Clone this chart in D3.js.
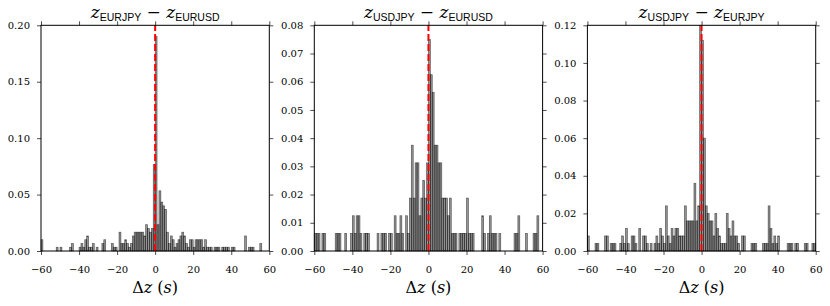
<!DOCTYPE html>
<html lang="en">
<head>
<meta charset="utf-8">
<title>Delta z histograms</title>
<script src="https://d3js.org/d3.v7.min.js"></script>
<style>
  body { margin: 0; background: #fff; }
  .tick text { font-family: 'DejaVu Serif', serif; font-size: 10px; fill: #000; }
  .tick line { stroke: #222; stroke-width: 0.8; }
</style>
</head>
<body>
<script>
// 1 s bins from -60 to 60, counts per bin (heights are count / sample size)
var binStarts = d3.range(-60, 60);

var countsEurjpyEurusd = [
  3,0,0,0,0,0,0,0,1,0, 1,0,0,0,0,1,2,0,0,0,
  1,2,1,3,4,1,1,2,0,1, 0,0,2,3,0,0,0,2,1,1,
  0,5,2,2,3,2,1,2,4,5, 5,5,5,5,4,7,6,5,6,23,
  57,7,16,13,12,11,5,2,4,3, 1,2,3,4,5,4,2,1,3,3,
  1,3,3,3,3,1,3,1,1,1, 0,1,1,1,0,1,1,1,1,0,
  1,1,0,0,0,0,0,4,0,1, 1,1,0,0,0,2,0,0,0,0
];
var countsUsdjpyEurusd = [
  1,1,1,0,1,1,0,0,0,0, 0,1,1,1,0,0,1,0,0,1,
  2,1,2,2,1,0,1,1,1,0, 0,0,0,1,0,1,1,1,0,1,
  1,0,2,1,1,2,1,0,2,1, 3,6,3,5,5,2,3,4,3,5,
  12,10,9,6,6,5,5,3,3,3, 2,3,1,1,1,0,1,1,1,1,
  3,1,1,1,0,0,0,0,2,1, 0,1,2,1,1,1,0,1,0,0,
  0,0,0,0,0,1,1,2,0,0, 0,1,0,0,0,1,1,2,0,0
];
var countsUsdjpyEurjpy = [
  2,0,0,0,1,1,0,0,0,2, 2,0,1,1,1,0,0,1,2,1,
  3,1,0,2,2,1,0,3,0,2, 2,1,0,1,0,1,2,1,3,2,
  1,6,2,1,3,2,3,3,2,2, 2,6,4,4,4,4,9,4,6,30,
  28,15,6,5,4,4,2,5,3,2, 1,1,1,5,3,2,4,2,2,1,
  0,2,2,0,0,0,1,1,1,0, 0,0,1,1,1,6,3,1,2,1,
  2,0,0,0,0,1,1,1,0,1, 1,0,0,0,1,1,0,0,1,1
];
var sampleSizes = [300, 160, 250];

var pairs = [["EURJPY", "EURUSD"], ["USDJPY", "EURUSD"], ["USDJPY", "EURJPY"]];
var yMaxes = [0.20, 0.08, 0.12];
var yTickSets = [
  [0.00, 0.05, 0.10, 0.15, 0.20],
  [0.00, 0.01, 0.02, 0.03, 0.04, 0.05, 0.06, 0.07, 0.08],
  [0.00, 0.02, 0.04, 0.06, 0.08, 0.10, 0.12]
];
var xTicks = [-60, -40, -20, 0, 20, 40, 60];

var allCounts = [countsEurjpyEurusd, countsUsdjpyEurusd, countsUsdjpyEurjpy];

var width = 830, height = 306;
var lefts = [41, 314.3, 587.4];
var plotW = 228.3;
var plotTop = 25.3, plotBottom = 251;
var serif = "'DejaVu Serif', serif";

var svg = d3.select("body").append("svg")
  .attr("width", width)
  .attr("height", height);

allCounts.forEach(function(counts, i) {
  var g = svg.append("g");
  var x = d3.scaleLinear().domain([-60, 60]).range([lefts[i], lefts[i] + plotW]);
  var y = d3.scaleLinear().domain([0, yMaxes[i]]).range([plotBottom, plotTop]);
  var n = sampleSizes[i];

  var bins = binStarts.map(function(b, j) { return {x0: b, x1: b + 1, v: counts[j] / n}; })
    .filter(function(d) { return d.v > 0; });

  g.selectAll("rect.bar")
    .data(bins)
    .enter().append("rect")
      .attr("class", "bar")
      .attr("x", function(d) { return x(d.x0); })
      .attr("width", function(d) { return x(d.x1) - x(d.x0); })
      .attr("y", function(d) { return y(d.v); })
      .attr("height", function(d) { return y(0) - y(d.v); })
      .attr("fill", "#000")
      .attr("fill-opacity", 0.42)
      .attr("stroke", "#000")
      .attr("stroke-opacity", 0.55)
      .attr("stroke-width", 0.7);

  // dashed line at zero
  g.append("line")
    .attr("x1", x(0)).attr("x2", x(0))
    .attr("y1", y(0)).attr("y2", y(yMaxes[i]))
    .attr("stroke", "#ff0000")
    .attr("stroke-width", 2)
    .attr("stroke-dasharray", "7,3");

  // axes, ticks outward on every side
  g.append("g").attr("transform", "translate(0," + plotBottom + ")")
    .call(d3.axisBottom(x).tickValues(xTicks).tickSize(4).tickPadding(11))
    .call(function(a) { a.select(".domain").remove(); });
  g.append("g").attr("transform", "translate(0," + plotTop + ")")
    .call(d3.axisTop(x).tickValues(xTicks).tickSize(4).tickFormat(""))
    .call(function(a) { a.select(".domain").remove(); });
  g.append("g").attr("transform", "translate(" + lefts[i] + ",0)")
    .call(d3.axisLeft(y).tickValues(yTickSets[i]).tickSize(4).tickPadding(7).tickFormat(d3.format(".2f")))
    .call(function(a) { a.select(".domain").remove(); });
  g.append("g").attr("transform", "translate(" + (lefts[i] + plotW) + ",0)")
    .call(d3.axisRight(y).tickValues(yTickSets[i]).tickSize(4).tickFormat(""))
    .call(function(a) { a.select(".domain").remove(); });

  g.append("rect")
    .attr("x", lefts[i]).attr("y", plotTop)
    .attr("width", plotW).attr("height", plotBottom - plotTop)
    .attr("fill", "none")
    .attr("stroke", "#000")
    .attr("stroke-width", 1);

  // title z_A - z_B
  var cx = lefts[i] + plotW / 2;
  var t = g.append("text")
    .attr("x", cx).attr("y", 18)
    .attr("text-anchor", "middle")
    .attr("font-family", serif)
    .attr("font-size", 17);
  t.append("tspan").attr("font-style", "italic").text("z");
  t.append("tspan").attr("font-family", "'Liberation Sans', sans-serif").attr("font-size", 10.5)
    .attr("dy", 3).text(pairs[i][0]);
  t.append("tspan").attr("dy", -3).text(" \u2212 ");
  t.append("tspan").attr("font-style", "italic").text("z");
  t.append("tspan").attr("font-family", "'Liberation Sans', sans-serif").attr("font-size", 10.5)
    .attr("dy", 3).text(pairs[i][1]);

  // x label
  var xl = g.append("text")
    .attr("x", cx).attr("y", 293)
    .attr("text-anchor", "middle")
    .attr("font-family", serif)
    .attr("font-size", 16);
  xl.append("tspan").text("\u0394");
  xl.append("tspan").attr("font-style", "italic").text("z");
  xl.append("tspan").text(" (");
  xl.append("tspan").attr("font-style", "italic").text("s");
  xl.append("tspan").text(")");
});
</script>
</body>
</html>
